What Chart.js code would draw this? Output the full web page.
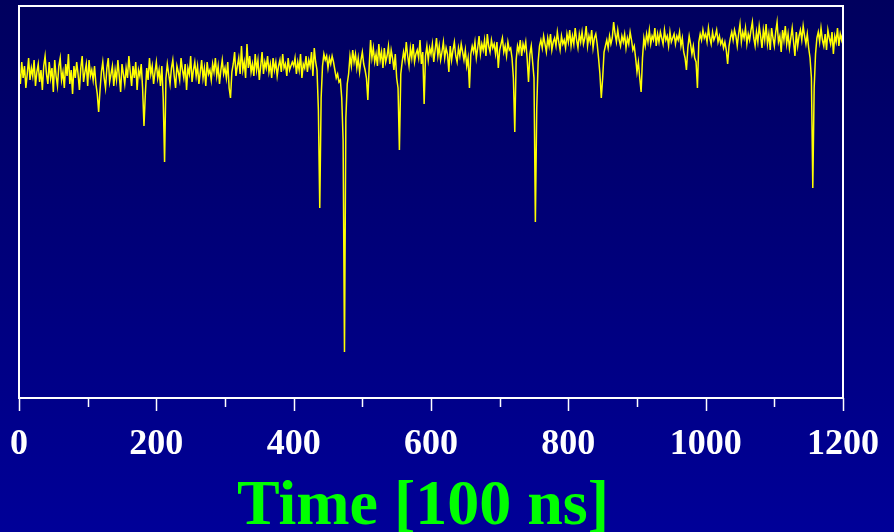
<!DOCTYPE html>
<html>
<head>
<meta charset="utf-8">
<title>Pulse trace</title>
<script src="https://cdn.jsdelivr.net/npm/chart.js@4/dist/chart.umd.min.js"></script>
<style>
  html, body { margin: 0; padding: 0; background: #000080; }
  #wrap { width: 894px; height: 532px; }
</style>
</head>
<body>
<div id="wrap"><canvas id="trace"></canvas></div>
<script>
// sampled detector trace, one sample every 2 time bins (100 ns each)
const SAMPLE_STEP = 2
const amplitude = [
  -26,-33,-22,-30,-24,-35,-28,-20,-31,-25,
  -29,-21,-34,-27,-23,-32,-26,-36,-24,-19,
  -28,-33,-22,-30,-25,-37,-21,-29,-34,-24,
  -20,-31,-27,-35,-23,-29,-18,-33,-26,-38,
  -24,-30,-22,-28,-36,-25,-19,-32,-27,-23,
  -34,-21,-29,-26,-31,-24,-33,-38,-47,-36,
  -27,-22,-30,-35,-25,-20,-32,-28,-24,-34,
  -26,-31,-21,-29,-37,-23,-28,-33,-25,-30,
  -19,-27,-34,-24,-30,-22,-36,-26,-29,-23,
  -35,-54,-38,-25,-31,-20,-28,-24,-33,-27,
  -22,-30,-26,-34,-24,-40,-72,-30,-23,-28,
  -33,-25,-21,-29,-35,-24,-27,-31,-20,-26,
  -30,-23,-36,-25,-28,-19,-32,-26,-22,-29,
  -24,-33,-27,-21,-30,-25,-34,-22,-28,-26,
  -31,-23,-27,-20,-29,-24,-33,-26,-21,-28,
  -25,-30,-22,-35,-40,-27,-23,-17,-29,-24,
  -20,-28,-14,-26,-22,-30,-13,-25,-19,-27,
  -23,-29,-18,-26,-21,-31,-24,-17,-28,-22,
  -25,-19,-27,-23,-30,-20,-26,-22,-29,-24,
  -21,-27,-18,-25,-23,-29,-20,-26,-24,-22,
  -24,-20,-28,-22,-26,-18,-30,-23,-25,-19,
  -27,-21,-24,-17,-29,-15,-22,-26,-46,-95,
  -40,-24,-18,-21,-19,-25,-20,-23,-19,-22,
  -26,-30,-28,-32,-31,-40,-61,-167,-50,-33,
  -28,-19,-24,-16,-22,-18,-25,-20,-27,-21,
  -17,-23,-26,-30,-41,-24,-11,-20,-15,-22,
  -18,-24,-13,-21,-17,-25,-15,-22,-19,-14,
  -23,-16,-20,-26,-18,-30,-35,-66,-28,-22,
  -17,-21,-12,-19,-24,-15,-20,-13,-22,-18,
  -16,-20,-11,-23,-17,-43,-19,-14,-21,-15,
  -18,-13,-22,-16,-10,-19,-14,-21,-17,-12,
  -20,-15,-18,-27,-14,-21,-16,-12,-19,-22,
  -15,-19,-13,-17,-21,-16,-24,-20,-35,-18,
  -14,-17,-12,-20,-15,-9,-18,-13,-16,-11,
  -19,-8,-14,-17,-11,-15,-13,-18,-12,-25,
  -16,-13,-10,-17,-14,-19,-12,-16,-15,-20,
  -30,-57,-21,-14,-17,-11,-19,-13,-16,-12,
  -20,-32,-18,-14,-22,-30,-102,-45,-22,-14,
  -11,-15,-9,-13,-17,-10,-14,-8,-16,-12,
  -10,-14,-7,-12,-16,-9,-13,-11,-15,-8,
  -12,-6,-14,-9,-13,-5,-11,-15,-8,-12,
  -7,-13,-10,-4,-14,-9,-12,-6,-15,-10,
  -8,-13,-20,-28,-40,-30,-17,-14,-11,-15,
  -9,-13,-10,-2,-8,-12,-6,-11,-14,-9,
  -12,-8,-15,-10,-13,-7,-11,-16,-14,-20,
  -27,-22,-30,-37,-20,-10,-14,-8,-12,-6,
  -13,-9,-11,-5,-14,-8,-12,-7,-10,-13,
  -6,-11,-9,-14,-7,-12,-10,-8,-13,-9,
  -11,-7,-14,-10,-17,-20,-26,-15,-9,-13,
  -18,-14,-20,-22,-35,-12,-8,-11,-6,-10,
  -8,-12,-5,-10,-13,-7,-11,-9,-6,-12,
  -9,-13,-11,-15,-12,-16,-23,-14,-10,-7,
  -11,-6,-9,-14,-8,-3,-12,-7,-10,-5,
  -13,-8,-11,-6,-2,-10,-14,-7,-12,-4,
  -9,-15,-6,-11,-3,-13,-8,-16,-5,-10,
  -14,-7,-2,-12,-9,-17,-6,-11,-4,-13,
  -8,-15,-10,-5,-12,-19,-7,-14,-9,-6,
  -11,-4,-9,-13,-8,-15,-20,-30,-85,-35,
  -18,-10,-7,-12,-5,-11,-14,-8,-16,-6,
  -10,-13,-7,-18,-9,-12,-5,-14,-8,-11,
  -7
]
const timeRange = [0, 1200]
const tickLabels = ['0', '200', '400', '600', '800', '1000', '1200']
const axisTitle = 'Time [100 ns]'

const points = amplitude.map((v, i) => ({ x: i * SAMPLE_STEP, y: v }))

// blue backdrop, darker at the top
const backdrop = {
  id: 'backdrop',
  beforeDraw(chart) {
    const { ctx, width, height } = chart
    const g = ctx.createLinearGradient(0, 0, 0, height)
    g.addColorStop(0, '#00005e')
    g.addColorStop(1, '#000098')
    ctx.save()
    ctx.fillStyle = g
    ctx.fillRect(0, 0, width, height)
    ctx.restore()
  }
}

// white frame round the plot plus long/short ticks under it
const frame = {
  id: 'frame',
  afterDraw(chart) {
    const { ctx, chartArea: a } = chart
    const xs = chart.scales.x
    ctx.save()
    ctx.strokeStyle = '#ffffff'
    ctx.lineWidth = 2
    ctx.strokeRect(a.left, a.top, a.right - a.left, a.bottom - a.top)
    ctx.lineWidth = 1.5
    xs.ticks.forEach(t => {
      const px = Math.round(xs.getPixelForValue(t.value)) + 0.5
      const len = t.value % 200 === 0 ? 13 : 9
      ctx.beginPath()
      ctx.moveTo(px, a.bottom)
      ctx.lineTo(px, a.bottom + len)
      ctx.stroke()
    })
    ctx.restore()
  }
}

new Chart(document.getElementById('trace'), {
  type: 'line',
  data: {
    datasets: [{
      data: points,
      borderColor: '#ffff00',
      borderWidth: 1.5,
      pointRadius: 0,
      tension: 0
    }]
  },
  options: {
    responsive: true,
    maintainAspectRatio: false,
    animation: false,
    parsing: false,
    layout: { padding: { left: 19, right: 51, top: 6, bottom: 0 } },
    plugins: { legend: { display: false }, tooltip: { enabled: false } },
    scales: {
      x: {
        type: 'linear',
        min: timeRange[0],
        max: timeRange[1],
        grid: { display: false, drawTicks: false },
        border: { display: false },
        // labels may spill into the side padding
        afterFit: s => { s.paddingLeft = 0; s.paddingRight = 0 },
        ticks: {
          stepSize: 100,
          autoSkip: false,
          maxRotation: 0,
          padding: 25,
          color: '#ffffff',
          font: { family: '"Liberation Serif", "Times New Roman", serif', size: 36, weight: 'bold' },
          callback: v => {
            const i = tickLabels.indexOf(String(v))
            return i >= 0 ? tickLabels[i] : ''
          }
        },
        title: {
          display: true,
          // trailing space nudges the centred title a little left
          text: axisTitle + ' ',
          color: '#00ff00',
          font: { family: '"Liberation Serif", "Times New Roman", serif', size: 64, weight: 'bold' },
          padding: { top: -22, bottom: -14 }
        }
      },
      y: {
        display: false,
        min: -190,
        max: 6
      }
    }
  },
  plugins: [backdrop, frame]
})
</script>
</body>
</html>
